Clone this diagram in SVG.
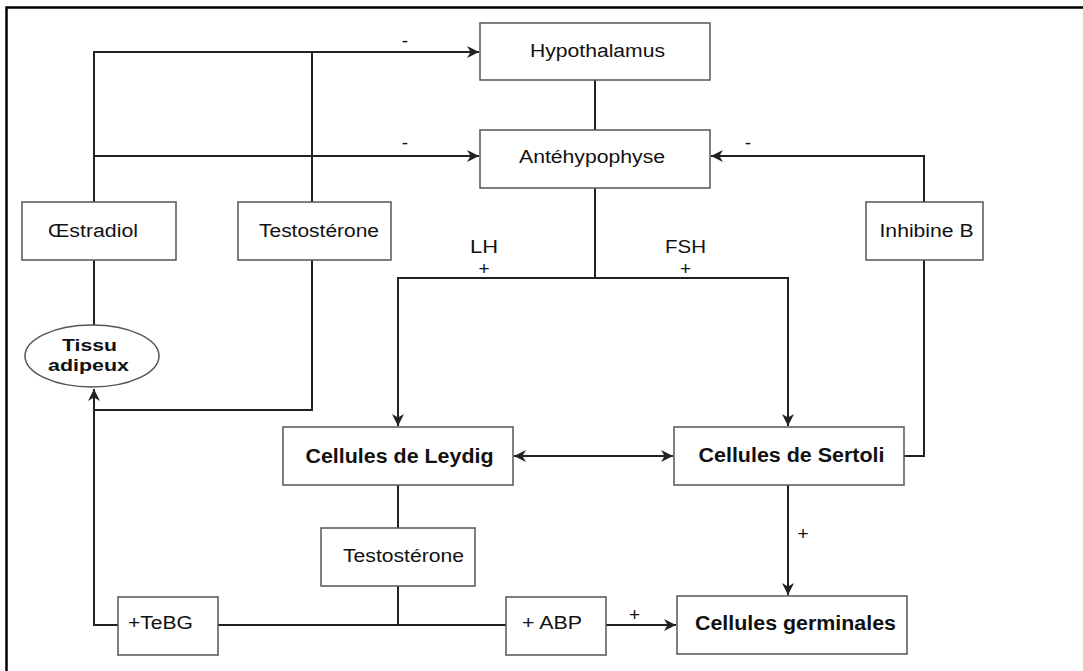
<svg xmlns="http://www.w3.org/2000/svg" width="1083" height="671" viewBox="0 0 1083 671">
<style>
.bg{fill:#fff}
.frame{stroke:#000;stroke-width:2.5;fill:none}
.box{fill:#fff;stroke:#555;stroke-width:1.5}
.ln{fill:none;stroke:#222;stroke-width:2}
.t{font-family:"Liberation Sans",Arial,sans-serif;font-size:18px;fill:#111}
.b{font-family:"Liberation Sans",Arial,sans-serif;font-size:19.5px;font-weight:bold;fill:#111}
.e{font-family:"Liberation Sans",Arial,sans-serif;font-size:16.5px;font-weight:bold;fill:#111}
.s{font-family:"Liberation Sans",Arial,sans-serif;font-size:19px;fill:#111;text-anchor:middle}
</style>
<defs>
<marker id="ar" viewBox="0 0 10 10" markerUnits="userSpaceOnUse" markerWidth="12" markerHeight="12" refX="10" refY="5" orient="auto-start-reverse">
<path d="M0,0 L10,5 L0,10 L3,5 z" fill="#222"/>
</marker>
</defs>
<rect class="bg" x="0" y="0" width="1083" height="671"/>
<path class="frame" d="M6.5,671 V7.5 H1083"/>

<g id="connectors">
<path class="ln" d="M94,202 V52 H479" marker-end="url(#ar)"/>
<path class="ln" d="M312,202 V52"/>
<path class="ln" d="M94,156 H479" marker-end="url(#ar)"/>
<path class="ln" d="M595,80 V130"/>
<path class="ln" d="M924,202 V156 H711" marker-end="url(#ar)"/>
<path class="ln" d="M595,188 V278 H398 V426" marker-end="url(#ar)"/>
<path class="ln" d="M595,278 H788 V426" marker-end="url(#ar)"/>
<path class="ln" d="M904,456 H924 V260"/>
<path class="ln" d="M514,456 H673" marker-start="url(#ar)" marker-end="url(#ar)"/>
<path class="ln" d="M94,260 V325"/>
<path class="ln" d="M312,260 V410 H94"/>
<path class="ln" d="M118,625 H94 V389" marker-end="url(#ar)"/>
<path class="ln" d="M398,485 V528"/>
<path class="ln" d="M398,586 V625"/>
<path class="ln" d="M218,625 H506"/>
<path class="ln" d="M606,625 H676" marker-end="url(#ar)"/>
<path class="ln" d="M788,485 V595" marker-end="url(#ar)"/>
<text class="s" x="405" y="47">-</text>
<text class="s" x="405" y="149">-</text>
<text class="s" x="748" y="149">-</text>
<text class="t" x="470" y="253" textLength="28" lengthAdjust="spacingAndGlyphs">LH</text>
<text class="s" x="484" y="275">+</text>
<text class="t" x="665" y="253" textLength="41" lengthAdjust="spacingAndGlyphs">FSH</text>
<text class="s" x="685.5" y="275">+</text>
<text class="s" x="803" y="540">+</text>
<text class="s" x="634.5" y="621">+</text>
</g>

<g id="hypothalamus">
<rect class="box" x="480" y="23" width="230" height="57"/>
<text class="t" x="530" y="57" textLength="135" lengthAdjust="spacingAndGlyphs">Hypothalamus</text>
</g>
<g id="antehypophyse">
<rect class="box" x="480" y="130" width="230" height="58"/>
<text class="t" x="519" y="163" textLength="146" lengthAdjust="spacingAndGlyphs">Antéhypophyse</text>
</g>
<g id="oestradiol">
<rect class="box" x="22" y="202" width="154" height="58"/>
<text class="t" x="48" y="237" textLength="90" lengthAdjust="spacingAndGlyphs">Œstradiol</text>
</g>
<g id="testosterone1">
<rect class="box" x="238" y="202" width="153" height="58"/>
<text class="t" x="259" y="237" textLength="120" lengthAdjust="spacingAndGlyphs">Testostérone</text>
</g>
<g id="inhibine">
<rect class="box" x="866" y="202" width="117" height="58"/>
<text class="t" x="879.5" y="237" textLength="94" lengthAdjust="spacingAndGlyphs">Inhibine B</text>
</g>
<g id="tissu-adipeux">
<ellipse class="box" cx="92" cy="356" rx="67" ry="31"/>
<text class="e" x="62" y="351" textLength="55" lengthAdjust="spacingAndGlyphs">Tissu</text>
<text class="e" x="48" y="370.5" textLength="81" lengthAdjust="spacingAndGlyphs">adipeux</text>
</g>
<g id="leydig">
<rect class="box" x="283" y="427" width="230" height="58"/>
<text class="b" x="305.5" y="462.5" textLength="188" lengthAdjust="spacingAndGlyphs">Cellules de Leydig</text>
</g>
<g id="sertoli">
<rect class="box" x="674" y="427" width="230" height="58"/>
<text class="b" x="698.5" y="462" textLength="186" lengthAdjust="spacingAndGlyphs">Cellules de Sertoli</text>
</g>
<g id="testosterone2">
<rect class="box" x="321" y="528" width="154" height="58"/>
<text class="t" x="343" y="562" textLength="121" lengthAdjust="spacingAndGlyphs">Testostérone</text>
</g>
<g id="tebg">
<rect class="box" x="118" y="597" width="100" height="58"/>
<text class="t" x="128" y="629" textLength="65" lengthAdjust="spacingAndGlyphs">+TeBG</text>
</g>
<g id="abp">
<rect class="box" x="506" y="597" width="100" height="58"/>
<text class="t" x="522" y="629" textLength="60" lengthAdjust="spacingAndGlyphs">+ ABP</text>
</g>
<g id="germinales">
<rect class="box" x="677" y="596" width="230" height="58"/>
<text class="b" x="695" y="630" textLength="201" lengthAdjust="spacingAndGlyphs">Cellules germinales</text>
</g>
</svg>
